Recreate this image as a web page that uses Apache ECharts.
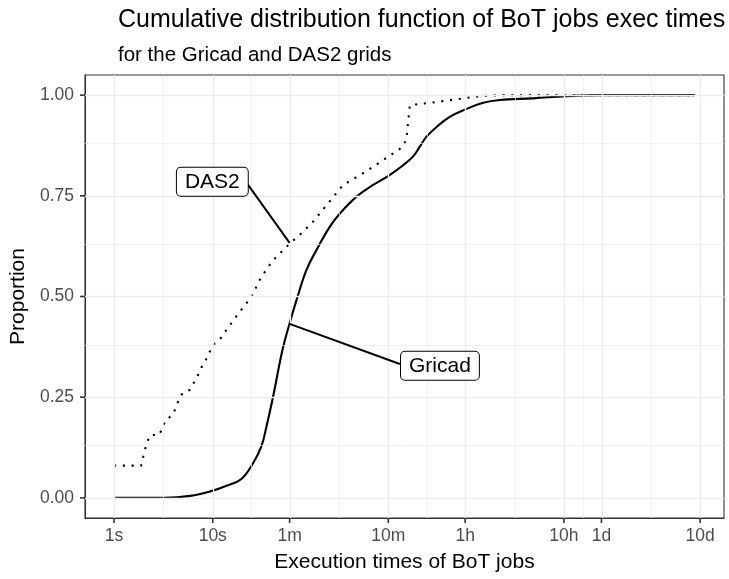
<!DOCTYPE html>
<html>
<head>
    <meta charset="UTF-8">
    <title>CDF of BoT jobs exec times</title>
    <script type="text/javascript" src="https://cdn.jsdelivr.net/npm/echarts@6/dist/echarts.min.js"></script>
    <style>
        body { margin: 0; background: #fff; }
    </style>
</head>
<body>
<div id="cdf" style="width: 729px; height: 579px;"></div>
<script>
    // tick positions (seconds) and their labels
    var xTickSeconds = [1, 10, 60, 600, 3600, 36000, 86400, 864000];
    var xTickLabels = ['1s', '10s', '1m', '10m', '1h', '10h', '1d', '10d'];
    var yTicks = [0, 0.25, 0.5, 0.75, 1];
    var yTickLabels = ['0.00', '0.25', '0.50', '0.75', '1.00'];

    // Gricad grid, execution time (s) -> proportion
    var gricadSec = [1, 3.2, 5.9, 10, 13.8, 19.5, 25.6, 31, 35, 40.8, 50.8, 60, 70.5, 89, 112, 153, 194,
        286, 421, 597, 847, 1071, 1250, 1462, 1850, 2510, 3573, 5480, 8090, 17600, 38300, 86400, 765000];
    var gricadProp = [0, 0, 0.005, 0.018, 0.03, 0.047, 0.086, 0.127, 0.177, 0.251, 0.367, 0.433, 0.491, 0.566, 0.615, 0.673, 0.706,
        0.748, 0.777, 0.799, 0.826, 0.848, 0.872, 0.897, 0.921, 0.946, 0.964, 0.981, 0.988, 0.992, 0.9975, 1, 1];

    // DAS2 grid
    var das2Sec = [1, 1.88, 2.05, 2.18, 2.34, 2.86, 3.09, 3.34, 3.81, 4.19, 4.49, 4.93, 5.85, 6.41, 7.1, 7.69, 8.49,
        9.33, 10.2, 12, 13.4, 15.1, 17, 19.5, 21.9, 24.7, 31.1, 40.8, 58, 76, 104, 147, 209, 308, 421, 597,
        847, 916, 953, 991, 1030, 1850, 3440, 5070, 8090, 765000];
    var das2Prop = [0.08, 0.08, 0.119, 0.14, 0.156, 0.156, 0.173, 0.194, 0.203, 0.221, 0.241, 0.26, 0.268, 0.285, 0.305, 0.324, 0.342,
        0.363, 0.381, 0.396, 0.413, 0.431, 0.448, 0.467, 0.483, 0.5, 0.549, 0.59, 0.628, 0.653, 0.686, 0.731, 0.777, 0.801, 0.822, 0.847,
        0.872, 0.892, 0.934, 0.975, 0.977, 0.983, 0.992, 0.9975, 1, 1];

    // labels (ggrepel style) : name, box centre, leader start, leader end
    var labelNames = ['DAS2', 'Gricad'];
    var labelSec = [9.9, 2000];
    var labelProp = [0.785, 0.328];
    var leaderFromSec = [22.8, 785];
    var leaderFromProp = [0.777, 0.3325];
    var leaderToSec = [60, 60];
    var leaderToProp = [0.633, 0.432];

    var xMin = -0.294, xMax = 6.178, yMin = -0.05, yMax = 1.05;

    var lg = function (s) { return Math.log10(s); };
    var pairs = function (xs, ys) {
        var out = [];
        for (var i = 0; i < xs.length; i++) out.push([lg(xs[i]), ys[i]]);
        return out;
    };

    var xMajor = xTickSeconds.map(lg);
    var xMinor = [];
    for (var i = 0; i < xMajor.length - 1; i++) xMinor.push((xMajor[i] + xMajor[i + 1]) / 2);
    var yMinor = [];
    for (var j = 0; j < yTicks.length - 1; j++) yMinor.push((yTicks[j] + yTicks[j + 1]) / 2);

    var gridLines = [];
    xMinor.forEach(function (v) { gridLines.push({xAxis: v, lineStyle: {width: 0.7}}); });
    yMinor.forEach(function (v) { gridLines.push({yAxis: v, lineStyle: {width: 0.7}}); });
    xMajor.forEach(function (v) { gridLines.push({xAxis: v, lineStyle: {width: 1.4}}); });
    yTicks.forEach(function (v) { gridLines.push({yAxis: v, lineStyle: {width: 1.4}}); });

    var leaders = [], boxes = [];
    for (var k = 0; k < labelNames.length; k++) {
        leaders.push([{coord: [lg(leaderFromSec[k]), leaderFromProp[k]]}, {coord: [lg(leaderToSec[k]), leaderToProp[k]]}]);
        boxes.push({name: labelNames[k], coord: [lg(labelSec[k]), labelProp[k]]});
    }

    var font = 'Liberation Sans, Arial, sans-serif';
    var myChart = echarts.init(document.getElementById('cdf'));
    myChart.setOption({
        animation: false,
        title: [{
            text: 'Cumulative distribution function of BoT jobs exec times',
            left: 113, top: 3,
            textStyle: {fontFamily: font, fontSize: 25, fontWeight: 'normal', color: '#000'}
        }, {
            text: 'for the Gricad and DAS2 grids',
            left: 113, top: 40,
            textStyle: {fontFamily: font, fontSize: 20.5, fontWeight: 'normal', color: '#000'}
        }],
        grid: {
            left: 85, top: 75, width: 639, height: 443,
            show: true, backgroundColor: '#fff', borderColor: '#333', borderWidth: 1.1
        },
        xAxis: {
            type: 'value',
            min: xMin, max: xMax,
            name: 'Execution times of BoT jobs',
            nameLocation: 'middle', nameGap: 34,
            nameTextStyle: {fontFamily: font, fontSize: 21, color: '#000'},
            axisLine: {show: true, onZero: false, lineStyle: {color: '#333', width: 1.1}},
            axisTick: {show: false},
            axisLabel: {
                customValues: xMajor, margin: 9,
                fontFamily: font, fontSize: 17.5, color: '#4D4D4D',
                formatter: function (v) {
                    for (var i = 0; i < xMajor.length; i++) {
                        if (Math.abs(xMajor[i] - v) < 1e-6) return xTickLabels[i];
                    }
                    return '';
                }
            },
            splitLine: {show: false}
        },
        yAxis: {
            type: 'value',
            min: yMin, max: yMax,
            name: 'Proportion',
            nameLocation: 'middle', nameGap: 52,
            nameTextStyle: {fontFamily: font, fontSize: 21, color: '#000'},
            axisLine: {show: true, onZero: false, lineStyle: {color: '#333', width: 1.1}},
            axisTick: {show: false},
            axisLabel: {
                customValues: yTicks, margin: 11,
                fontFamily: font, fontSize: 17.5, color: '#4D4D4D',
                formatter: function (v) {
                    for (var i = 0; i < yTicks.length; i++) {
                        if (Math.abs(yTicks[i] - v) < 1e-6) return yTickLabels[i];
                    }
                    return '';
                }
            },
            splitLine: {show: false}
        },
        series: [{
            // background grid lines
            type: 'line', z: 1, silent: true,
            data: [[0, 0]], showSymbol: false, lineStyle: {opacity: 0},
            markLine: {
                silent: true, symbol: 'none', label: {show: false},
                lineStyle: {color: '#EBEBEB', type: 'solid'},
                data: gridLines
            }
        }, {
            name: 'DAS2', type: 'line', z: 3,
            data: pairs(das2Sec, das2Prop),
            showSymbol: false,
            lineStyle: {color: '#000', width: 2.1, type: [2.1, 6.7], cap: 'butt'}
        }, {
            name: 'Gricad', type: 'line', z: 3,
            data: pairs(gricadSec, gricadProp),
            showSymbol: false, smooth: 0.4,
            lineStyle: {color: '#000', width: 2.1}
        }, {
            // repelled labels with leader segments
            type: 'line', z: 4, silent: true,
            data: [[0, 0]], showSymbol: false, lineStyle: {opacity: 0},
            markLine: {
                silent: true, symbol: 'none', label: {show: false},
                lineStyle: {color: '#000', type: 'solid', width: 2},
                data: leaders
            },
            markPoint: {
                silent: true, symbol: 'rect', symbolSize: 0,
                label: {
                    show: true, position: 'inside', formatter: '{b}',
                    fontFamily: font, fontSize: 21, color: '#000',
                    backgroundColor: '#fff', borderColor: '#000', borderWidth: 1,
                    borderRadius: 4, padding: [4, 8, 3, 8]
                },
                data: boxes
            }
        }]
    });

    // outside ticks, placed through the chart's own scales
    var tickStyle = {stroke: '#333', lineWidth: 1.6};
    var ticks = [];
    xMajor.forEach(function (v) {
        var p = myChart.convertToPixel({gridIndex: 0}, [v, yMin]);
        ticks.push({type: 'line', silent: true, z: 100,
            shape: {x1: p[0], y1: p[1], x2: p[0], y2: p[1] + 5}, style: tickStyle});
    });
    yTicks.forEach(function (v) {
        var p = myChart.convertToPixel({gridIndex: 0}, [xMin, v]);
        ticks.push({type: 'line', silent: true, z: 100,
            shape: {x1: p[0] - 5, y1: p[1], x2: p[0], y2: p[1]}, style: tickStyle});
    });
    myChart.setOption({graphic: ticks});
</script>
</body>
</html>
